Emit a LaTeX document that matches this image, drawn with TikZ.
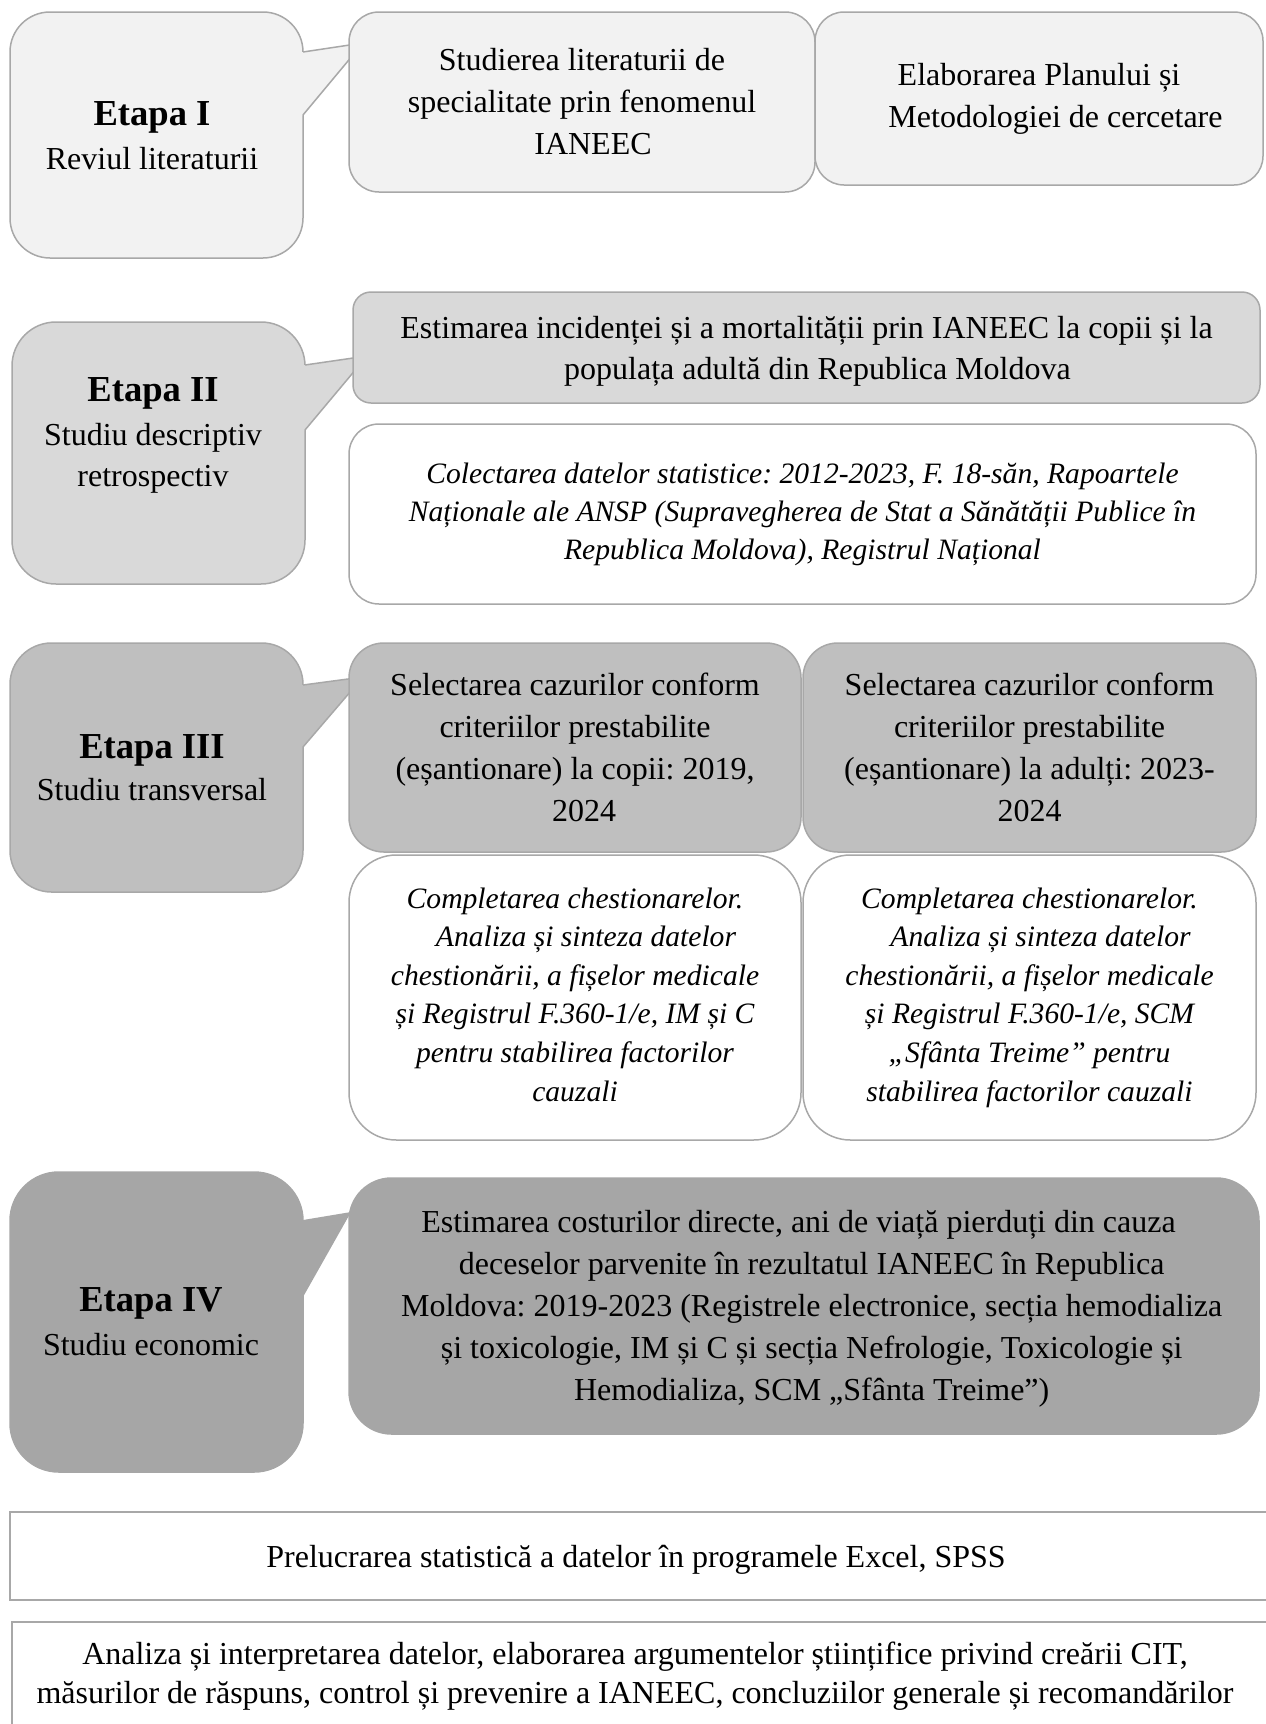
\documentclass[tikz,border=0pt]{standalone}
\usepackage{fontspec}
\setmainfont{Liberation Serif}
\definecolor{cI}{HTML}{F2F2F2}
\definecolor{cII}{HTML}{D9D9D9}
\definecolor{cIII}{HTML}{BFBFBF}
\definecolor{cIV}{HTML}{A6A6A6}
\definecolor{edge}{HTML}{A8A8A8}
\begin{document}
\frenchspacing
\begin{tikzpicture}[x=0.5pt,y=-0.5pt,
  shp/.style={draw=edge, line width=0.75pt, inner sep=0pt, align=center, font=\fontsize{16}{21}\selectfont},
  ttl/.style={anchor=base, inner sep=0pt, font=\fontsize{18.3}{22}\selectfont\bfseries},
  sub/.style={anchor=base, inner sep=0pt, font=\fontsize{16}{21}\selectfont},
  tailline/.style={draw=edge, line width=0.75pt, line join=miter},
  txt/.style={inner sep=0pt, align=center}
]
\useasboundingbox (0,0) rectangle (1265,1724);

% ---------- Etapa I ----------
\node[shp, fill=cI, minimum width=146.5pt, minimum height=123pt, rounded corners=20pt] (e1) at (156.5,135) {};
\fill[cI] (299,52) -- (303,52) -- (363,43) -- (303,115) -- (299,115) -- cycle;
\draw[tailline] (303,52) -- (363,43) -- (303,115);
\node[ttl] (e1a) at (152,125) {Etapa I};
\node[sub] (e1b) at (152,169) {Reviul literaturii};

\node[shp, fill=cI, minimum width=233pt, minimum height=90pt, rounded corners=15pt] (b1) at (582,102)
  {Studierea literaturii de\\ specialitate prin fenomenul\\ \hspace*{11pt}IANEEC};
\node[shp, fill=cI, minimum width=224pt, minimum height=86.5pt, rounded corners=14.5pt] (b2) at (1039,98.5)
  {Elaborarea Planului și\\ \hspace*{16.5pt}Metodologiei de cercetare};

% ---------- Etapa II ----------
\node[shp, fill=cII, minimum width=146.5pt, minimum height=131pt, rounded corners=22pt] (e2) at (158.5,453) {};
\fill[cII] (301,365) -- (305,365) -- (367,356) -- (305,430) -- (301,430) -- cycle;
\draw[tailline] (305,365) -- (367,356) -- (305,430);
\node[ttl] (e2a) at (153,401) {Etapa II};
\node[sub] (e2b) at (153,445) {Studiu descriptiv};
\node[sub] (e2c) at (153,486) {retrospectiv};

\node[shp, fill=cII, minimum width=453.5pt, minimum height=55.5pt, rounded corners=9pt] (b3) at (806.5,347.5) {};
\node[txt, font=\fontsize{16}{20.4}\selectfont] (b3t) at (806.5,351.5)
  {Estimarea incidenței și a mortalității prin IANEEC la copii și la\\ \hspace*{11pt}populața adultă din Republica Moldova};
\node[shp, fill=white, minimum width=453.5pt, minimum height=90pt, rounded corners=15pt,
  font=\fontsize{14.8}{19}\selectfont\itshape] (b4) at (802.5,514)
  {Colectarea datelor statistice: 2012-2023, F. 18-săn, Rapoartele\\ Naționale ale ANSP (Supravegherea de Stat a Sănătății Publice în\\ Republica Moldova), Registrul Național};

% ---------- Etapa III ----------
\node[shp, fill=cIII, minimum width=146.5pt, minimum height=124.5pt, rounded corners=20.7pt] (e3) at (156.5,767.5) {};
\fill[cIII] (299,685) -- (303,685) -- (363,677) -- (303,747) -- (299,747) -- cycle;
\draw[tailline] (303,685) -- (363,677) -- (303,747);
\node[ttl] (e3a) at (152,758) {Etapa III};
\node[sub] (e3b) at (152,800) {Studiu transversal};

\node[shp, fill=cIII, minimum width=226pt, minimum height=104.5pt, rounded corners=17.4pt] (b5) at (575,747.5)
  {Selectarea cazurilor conform\\ criteriilor prestabilite\\ (eșantionare) la copii: 2019,\\ \hspace*{9pt}2024};
\node[shp, fill=cIII, minimum width=226.5pt, minimum height=104.5pt, rounded corners=17.4pt] (b6) at (1029.5,747.5)
  {Selectarea cazurilor conform\\ criteriilor prestabilite\\ (eșantionare) la adulți: 2023-\\ 2024};

\node[shp, fill=white, minimum width=226pt, minimum height=142.5pt, rounded corners=23.7pt,
  font=\fontsize{14.8}{19.3}\selectfont\itshape] (b7) at (575,997.5)
  {Completarea chestionarelor.\\ \hspace*{11pt}Analiza și sinteza datelor\\ chestionării, a fișelor medicale\\ și Registrul F.360-1/e, IM și C\\ pentru stabilirea factorilor\\ cauzali\vphantom{f}};
\node[shp, fill=white, minimum width=226.5pt, minimum height=142.5pt, rounded corners=23.7pt,
  font=\fontsize{14.8}{19.3}\selectfont\itshape] (b8) at (1029.5,997.5)
  {Completarea chestionarelor.\\ \hspace*{11pt}Analiza și sinteza datelor\\ chestionării, a fișelor medicale\\ și Registrul F.360-1/e, SCM\\ „Sfânta Treime” pentru\\ stabilirea factorilor cauzali};

% ---------- Etapa IV ----------
\node[shp, draw=cIV, fill=cIV, minimum width=146.5pt, minimum height=150pt, rounded corners=24.4pt] (e4) at (156.5,1322) {};
\fill[cIV] (299,1220) -- (303,1220) -- (351,1212) -- (303,1297) -- (299,1297) -- cycle;
\node[ttl] (e4a) at (151,1311) {Etapa IV};
\node[sub] (e4b) at (151,1355) {Studiu economic};

\node[shp, draw=cIV, fill=cIV, minimum width=455pt, minimum height=128pt, rounded corners=21.3pt] (b9) at (804,1306) {};
\node[txt, font=\fontsize{16}{21}\selectfont] (b9t) at (804,1309)
  {\hspace*{-5.5pt}Estimarea costurilor directe, ani de viață pierduți din cauza\\ \hspace*{7.7pt}deceselor parvenite în rezultatul IANEEC în Republica\\ \hspace*{7.7pt}Moldova: 2019-2023 (Registrele electronice, secția hemodializa\\ \hspace*{7.7pt}și toxicologie, IM și C și secția Nefrologie, Toxicologie și\\ \hspace*{7.7pt}Hemodializa, SCM „Sfânta Treime”)};

% ---------- bottom ----------
\node[shp, fill=white, minimum width=632.5pt, minimum height=44pt] (b10) at (642.5,1556) {};
\node[txt, font=\fontsize{16}{21}\selectfont] (b10t) at (636,1560) {Prelucrarea statistică a datelor în programele Excel, SPSS};
\node[shp, fill=white, minimum width=631.5pt, minimum height=79pt] (b11) at (643.5,1701) {};
\node[txt, font=\fontsize{16}{19.25}\selectfont] (b11t) at (635,1676)
  {Analiza și interpretarea datelor, elaborarea argumentelor științifice privind creării CIT,\\ măsurilor de răspuns, control și prevenire a IANEEC, concluziilor generale și recomandărilor};
\end{tikzpicture}
\end{document}
